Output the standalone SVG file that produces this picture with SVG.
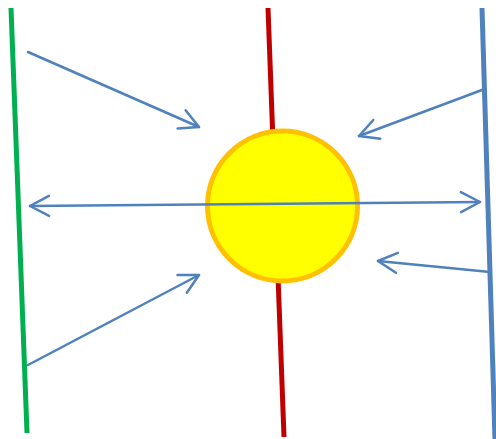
<svg xmlns="http://www.w3.org/2000/svg" width="496" height="439" viewBox="0 0 496 439">
<style>
.arr{stroke:#4F81BD;stroke-width:2.5;fill:none;stroke-linecap:round}
.wall{stroke-width:5;fill:none}
</style>
<defs>
<marker id="head" markerUnits="userSpaceOnUse" markerWidth="30" markerHeight="30" refX="22" refY="12" orient="auto-start-reverse" viewBox="0 0 30 24">
<polyline points="3,2 22,12 3,22" fill="none" stroke="#4F81BD" stroke-width="2.5" stroke-linecap="round" stroke-linejoin="round"/>
</marker>
</defs>
<rect width="496" height="439" fill="#FFFFFF"/>
<g id="walls">
<line class="wall" x1="11" y1="8" x2="27" y2="433" stroke="#00B050"/>
<line class="wall" x1="268" y1="8" x2="284" y2="437" stroke="#C00000"/>
<line class="wall" x1="482" y1="8" x2="495" y2="439" stroke="#4F81BD"/>
</g>
<g id="sun">
<circle cx="282.5" cy="206" r="75" fill="#FFFF00" stroke="#FFC000" stroke-width="5"/>
</g>
<g id="connectors">
<line class="arr" x1="28" y1="52" x2="199" y2="127" marker-end="url(#head)"/>
<line class="arr" x1="482" y1="90" x2="359" y2="136" marker-end="url(#head)"/>
<line class="arr" x1="30" y1="206" x2="480" y2="202" marker-start="url(#head)" marker-end="url(#head)"/>
<line class="arr" x1="28" y1="365" x2="199" y2="275" marker-end="url(#head)"/>
<line class="arr" x1="490" y1="272" x2="378" y2="261" marker-end="url(#head)"/>
</g>
</svg>
